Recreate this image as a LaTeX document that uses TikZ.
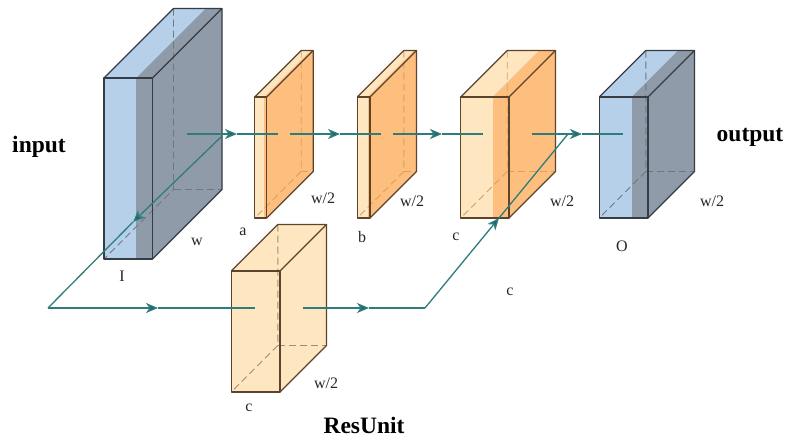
\documentclass[tikz,border=0pt]{standalone}
\usepackage{fontspec}
\setmainfont{Liberation Serif}
\usetikzlibrary{arrows.meta,calc}
\definecolor{blueL}{HTML}{B5D0E8}
\definecolor{blueD}{HTML}{8F9BA9}
\definecolor{edgeB}{HTML}{363C44}
\definecolor{hidB}{HTML}{6E7884}
\definecolor{orL}{HTML}{FEE6C0}
\definecolor{orD}{HTML}{FDBE7E}
\definecolor{edgeO}{HTML}{5C432C}
\definecolor{hidO}{HTML}{D9A060}
\definecolor{hidP}{HTML}{A08C70}
\definecolor{teal}{HTML}{2E7C7C}
\tikzset{
  flow/.style={draw=teal,line width=1.3pt},
  flowtip/.style={draw=teal,line width=1.3pt,-{Stealth[length=12pt,width=10pt,inset=3.5pt,fill=teal!80!black]}},
  lab/.style={font=\fontsize{16}{18}\selectfont,inner sep=0pt,text=black!85},
  head/.style={font=\fontsize{23.5}{26}\selectfont\bfseries,inner sep=0pt},
  hid/.style={line width=0.9pt,dash pattern=on 7pt off 4pt},
  edge/.style={line width=1.2pt,line join=round}
}
% left, split, right, top, bottom, depth, light, dark, edge colour, hidden colour
\newcommand{\cuboid}[9]{%
  \def\xL{#1}\def\xS{#2}\def\xR{#3}\def\yT{#4}\def\yB{#5}\def\dep{#6}%
  \def\cL{#7}\def\cD{#8}\def\cE{#9}\cuboidrest}
\newcommand{\cuboidrest}[1]{%
  \fill[\cL] (\xL,\yT) rectangle (\xS,\yB);
  \fill[\cD] (\xS,\yT) rectangle (\xR,\yB);
  \fill[\cL] (\xL,\yT) -- ++(\dep,-\dep) -- ($(\xS,\yT)+(\dep,-\dep)$) -- (\xS,\yT) -- cycle;
  \fill[\cD] (\xS,\yT) -- ++(\dep,-\dep) -- ($(\xR,\yT)+(\dep,-\dep)$) -- (\xR,\yT) -- cycle;
  \fill[\cD] (\xR,\yT) -- ++(\dep,-\dep) -- ($(\xR,\yB)+(\dep,-\dep)$) -- (\xR,\yB) -- cycle;
  \draw[hid,#1] ($(\xL,\yT)+(\dep,-\dep)$) -- ($(\xL,\yB)+(\dep,-\dep)$) -- (\xL,\yB);
  \draw[hid,#1] ($(\xL,\yB)+(\dep,-\dep)$) -- ($(\xR,\yB)+(\dep,-\dep)$);
  \draw[edge,\cE] (\xL,\yT) rectangle (\xR,\yB);
  \draw[edge,\cE] (\xL,\yT) -- ++(\dep,-\dep) -- ($(\xR,\yT)+(\dep,-\dep)$) -- (\xR,\yT);
  \draw[edge,\cE] ($(\xR,\yT)+(\dep,-\dep)$) -- ($(\xR,\yB)+(\dep,-\dep)$) -- (\xR,\yB);
}
\begin{document}
\begin{tikzpicture}[x=1pt,y=-1pt]
\useasboundingbox (0,0) rectangle (786,439);
\fill[white] (0,0) rectangle (786,439);
% boxes
\cuboid{104}{136}{152.5}{78}{259}{69.5}{blueL}{blueD}{edgeB}{hidB}
\cuboid{254.7}{264}{266.7}{97}{218}{46.5}{orL}{orD}{edgeO}{hidO}
\cuboid{357.3}{367.5}{370}{97}{218}{46.5}{orL}{orD}{edgeO}{hidO}
\cuboid{460.7}{492.7}{509}{97}{218}{46.5}{orL}{orD}{edgeO}{hidO}
\cuboid{599.3}{631.7}{648}{97}{218}{46.5}{blueL}{blueD}{edgeB}{hidB}
\cuboid{231.3}{280}{280}{271}{392}{46.5}{orL}{orL}{edgeO}{hidP}
% connector points
\coordinate (s1) at (187,134); \coordinate (t1) at (237,134); \coordinate (e1) at (278,134);
\coordinate (s2) at (290,134); \coordinate (t2) at (340,134); \coordinate (e2) at (381,134);
\coordinate (s3) at (393,134); \coordinate (t3) at (442,134); \coordinate (e3) at (483,134);
\coordinate (s4) at (532,134); \coordinate (t4) at (582,134); \coordinate (e4) at (623,134);
\coordinate (dstart) at (222,136); \coordinate (dtip) at (133,222); \coordinate (corner) at (48,308);
\coordinate (h1) at (158,308); \coordinate (h1e) at (255,308);
\coordinate (h2s) at (303,308); \coordinate (h2) at (369,308); \coordinate (bend) at (425,308);
\coordinate (utip) at (499,218); \coordinate (uend) at (568,134);
% connectors
\draw[flowtip] (s1) -- (t1); \draw[flow] (t1) -- (e1);
\draw[flowtip] (s2) -- (t2); \draw[flow] (t2) -- (e2);
\draw[flowtip] (s3) -- (t3); \draw[flow] (t3) -- (e3);
\draw[flowtip] (s4) -- (t4); \draw[flow] (t4) -- (e4);
\draw[flowtip] (dstart) -- (dtip); \draw[flow] (dtip) -- (corner);
\draw[flowtip] (corner) -- (h1); \draw[flow] (h1) -- (h1e);
\draw[flowtip] (h2s) -- (h2); \draw[flow] (h2) -- (bend);
\draw[flowtip] (bend) -- (utip); \draw[flow] (utip) -- (uend);
% labels
\node[head] (input) at (39,147) {input};
\node[head] (output) at (750,137) {output};
\node[head] (resunit) at (364,425) {ResUnit};
\node[lab] (lI) at (122,276) {I};
\node[lab] (lw) at (197,242) {w};
\node[lab] (la) at (243,232) {a};
\node[lab] (lb) at (362,237) {b};
\node[lab] (lc) at (456,237) {c};
\node[lab] (lO) at (622,246) {O};
\node[lab] (wa) at (323,198) {w/2};
\node[lab] (wb) at (412,201) {w/2};
\node[lab] (wc) at (562,201) {w/2};
\node[lab] (wO) at (712,201) {w/2};
\node[lab] (lc2) at (510,292) {c};
\node[lab] (lc3) at (249,408) {c};
\node[lab] (wr) at (326,383) {w/2};
\end{tikzpicture}
\end{document}
